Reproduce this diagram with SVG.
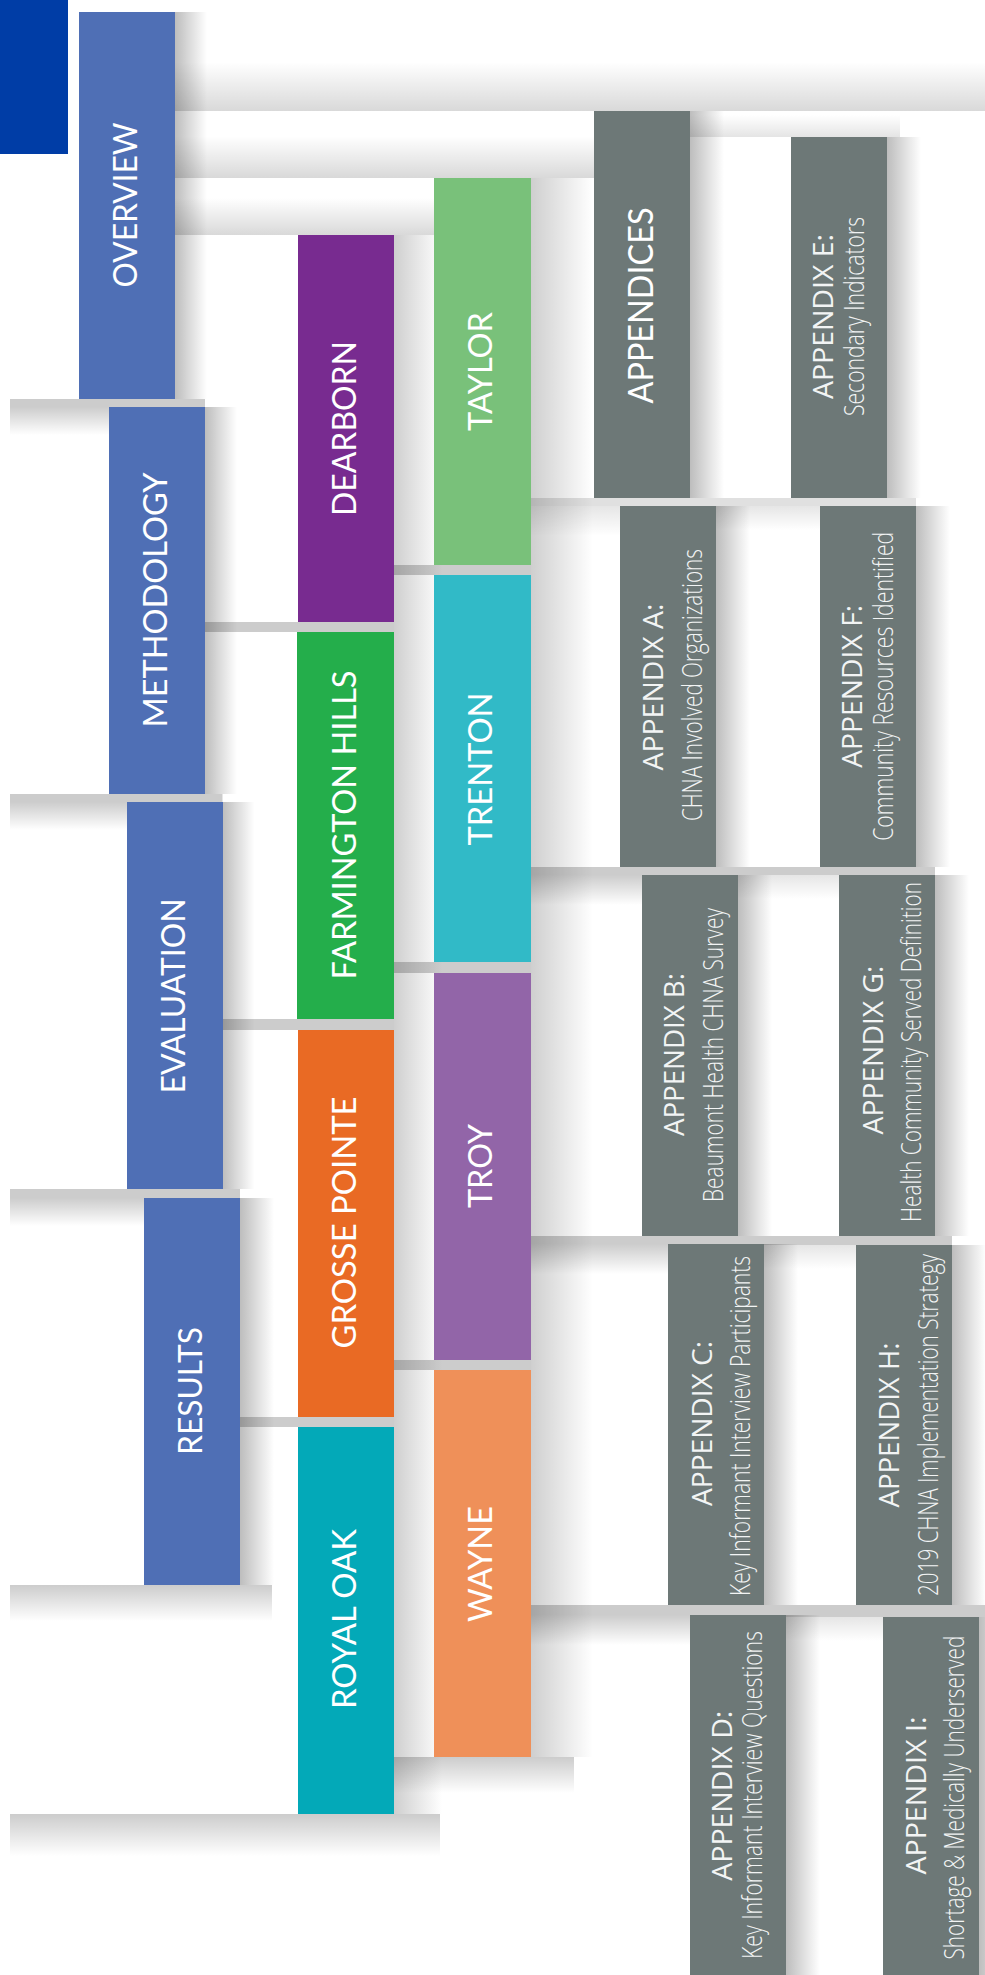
<svg xmlns="http://www.w3.org/2000/svg" width="985" height="1975" viewBox="0 0 985 1975">
<style>
.lbl{font-family:Lato,"Liberation Sans",sans-serif;font-size:32px;fill:#ffffff}
.big{font-size:34px}
.a1{font-family:"Open Sans","Liberation Sans",sans-serif;font-size:27px;fill:#f2f4f4}
.a2{font-family:"Open Sans","Liberation Sans",sans-serif;font-size:28px;font-weight:300;fill:#f2f4f4}
.strip{fill:#000;fill-opacity:0.2}
.stripL{fill:#000;fill-opacity:0.12}
.c1{fill:#4f6fb5}
.gr{fill:#6d7877}
</style>
<defs>
<linearGradient id="gR" x1="0" y1="0" x2="1" y2="0">
<stop offset="0" stop-color="#000" stop-opacity="0.26"/>
<stop offset="1" stop-color="#000" stop-opacity="0"/>
</linearGradient>
<linearGradient id="gR2" x1="0" y1="0" x2="1" y2="0">
<stop offset="0" stop-color="#000" stop-opacity="0.19"/>
<stop offset="1" stop-color="#000" stop-opacity="0"/>
</linearGradient>
<linearGradient id="gDown" x1="0" y1="0" x2="0" y2="1">
<stop offset="0" stop-color="#000" stop-opacity="0.2"/>
<stop offset="1" stop-color="#000" stop-opacity="0"/>
</linearGradient>
<linearGradient id="gDownL" x1="0" y1="0" x2="0" y2="1">
<stop offset="0" stop-color="#000" stop-opacity="0.1"/>
<stop offset="1" stop-color="#000" stop-opacity="0"/>
</linearGradient>
<linearGradient id="gUp" x1="0" y1="0" x2="0" y2="1">
<stop offset="0" stop-color="#000" stop-opacity="0"/>
<stop offset="1" stop-color="#000" stop-opacity="0.15"/>
</linearGradient>
</defs>
<rect width="985" height="1975" fill="#ffffff"/>

<g id="sheet-shading">
<rect x="175" y="62" width="810" height="49" fill="url(#gUp)"/>
<rect x="175" y="136" width="419" height="42" fill="url(#gUp)"/>
<rect x="175" y="198" width="259" height="37" fill="url(#gUp)"/>
<rect x="690" y="115" width="210" height="22" fill="url(#gUp)" opacity="0.7"/>
<rect x="175" y="12" width="32" height="387" fill="url(#gR)"/>
<rect x="205" y="407" width="32" height="387" fill="url(#gR)"/>
<rect x="222.5" y="802" width="32" height="387" fill="url(#gR)"/>
<rect x="240" y="1198" width="34" height="387" fill="url(#gR)"/>
<rect x="394" y="235" width="48" height="1579" fill="url(#gR2)"/>
<rect x="531" y="178" width="62" height="1579" fill="url(#gR2)"/>
<rect x="690" y="111" width="34" height="387" fill="url(#gR)"/>
<rect x="716" y="506" width="34" height="361" fill="url(#gR)"/>
<rect x="738" y="875" width="34" height="361" fill="url(#gR)"/>
<rect x="764" y="1244" width="34" height="361" fill="url(#gR)"/>
<rect x="786" y="1615" width="34" height="360" fill="url(#gR)"/>
<rect x="887" y="137" width="34" height="361" fill="url(#gR)"/>
<rect x="916" y="506" width="34" height="361" fill="url(#gR)"/>
<rect x="935" y="875" width="34" height="361" fill="url(#gR)"/>
<rect x="952" y="1245" width="34" height="360" fill="url(#gR)"/>
<rect x="979" y="1617" width="34" height="358" fill="url(#gR)"/>
<rect class="strip" x="10" y="399" width="195" height="8"/>
<rect x="10" y="407" width="99" height="28" fill="url(#gDown)"/>
<rect class="strip" x="10" y="794" width="212.5" height="8"/>
<rect x="10" y="802" width="117" height="28" fill="url(#gDown)"/>
<rect class="strip" x="10" y="1189" width="230" height="9"/>
<rect x="10" y="1198" width="134" height="28" fill="url(#gDown)"/>
<rect x="10" y="1585" width="262" height="36" fill="url(#gDown)"/>
<rect class="strip" x="205" y="622" width="189" height="10"/>
<rect class="strip" x="222.5" y="1019" width="171.5" height="11"/>
<rect class="strip" x="240" y="1417" width="154" height="10"/>
<rect x="10" y="1814" width="430" height="42" fill="url(#gDown)"/>
<rect class="strip" x="394" y="565" width="137" height="10"/>
<rect class="strip" x="394" y="962" width="137" height="11"/>
<rect class="strip" x="394" y="1360" width="137" height="10"/>
<rect x="394" y="1757" width="180" height="36" fill="url(#gDown)"/>
<rect class="stripL" x="531" y="498" width="185" height="8"/>
<rect x="531" y="506" width="89" height="30" fill="url(#gDownL)"/>
<rect class="strip" x="531" y="867" width="207" height="8"/>
<rect x="531" y="875" width="111" height="30" fill="url(#gDown)"/>
<rect class="strip" x="531" y="1236" width="233" height="8"/>
<rect x="531" y="1244" width="137" height="30" fill="url(#gDown)"/>
<rect class="strip" x="531" y="1605" width="255" height="10"/>
<rect x="531" y="1615" width="159" height="30" fill="url(#gDown)"/>
<rect class="stripL" x="716" y="498" width="200" height="8"/>
<rect x="716" y="506" width="104" height="24" fill="url(#gDownL)"/>
<rect class="strip" x="738" y="867" width="197" height="8"/>
<rect x="738" y="875" width="101" height="24" fill="url(#gDownL)"/>
<rect class="strip" x="764" y="1236" width="188" height="9"/>
<rect x="764" y="1245" width="92" height="24" fill="url(#gDownL)"/>
<rect class="strip" x="786" y="1605" width="199" height="12"/>
<rect x="786" y="1617" width="97" height="24" fill="url(#gDownL)"/>
</g>

<g id="corner-block"><rect x="0" y="0" width="68" height="154" fill="#003da6"/></g>

<g id="overview"><rect class="c1" x="79" y="12" width="96" height="387"/>
<text class="lbl" transform="translate(137,205) rotate(-90)" text-anchor="middle" textLength="165" lengthAdjust="spacingAndGlyphs">OVERVIEW</text></g>
<g id="methodology"><rect class="c1" x="109" y="407" width="96" height="387"/>
<text class="lbl" transform="translate(167,600) rotate(-90)" text-anchor="middle" textLength="255" lengthAdjust="spacingAndGlyphs">METHODOLOGY</text></g>
<g id="evaluation"><rect class="c1" x="127" y="802" width="96" height="387"/>
<text class="lbl" transform="translate(185,996) rotate(-90)" text-anchor="middle" textLength="195" lengthAdjust="spacingAndGlyphs">EVALUATION</text></g>
<g id="results"><rect class="c1" x="144" y="1198" width="96" height="387"/>
<text class="lbl" transform="translate(202,1391) rotate(-90)" text-anchor="middle" textLength="128" lengthAdjust="spacingAndGlyphs">RESULTS</text></g>

<g id="dearborn"><rect x="298" y="235" width="96" height="387" fill="#782b90"/>
<text class="lbl" transform="translate(356,428.5) rotate(-90)" text-anchor="middle" textLength="175" lengthAdjust="spacingAndGlyphs">DEARBORN</text></g>
<g id="farmington-hills"><rect x="297" y="632" width="97" height="387" fill="#24ae4b"/>
<text class="lbl" transform="translate(356,825) rotate(-90)" text-anchor="middle" textLength="309" lengthAdjust="spacingAndGlyphs">FARMINGTON HILLS</text></g>
<g id="grosse-pointe"><rect x="298" y="1030" width="96" height="387" fill="#e96a24"/>
<text class="lbl" transform="translate(356,1222.5) rotate(-90)" text-anchor="middle" textLength="252" lengthAdjust="spacingAndGlyphs">GROSSE POINTE</text></g>
<g id="royal-oak"><rect x="298" y="1427" width="96" height="387" fill="#03a9b8"/>
<text class="lbl" transform="translate(356,1619) rotate(-90)" text-anchor="middle" textLength="180" lengthAdjust="spacingAndGlyphs">ROYAL OAK</text></g>

<g id="taylor"><rect x="434" y="178" width="97" height="387" fill="#79c17a"/>
<text class="lbl" transform="translate(492,371.5) rotate(-90)" text-anchor="middle" textLength="119" lengthAdjust="spacingAndGlyphs">TAYLOR</text></g>
<g id="trenton"><rect x="434" y="575" width="97" height="387" fill="#31bac7"/>
<text class="lbl" transform="translate(492,769) rotate(-90)" text-anchor="middle" textLength="153" lengthAdjust="spacingAndGlyphs">TRENTON</text></g>
<g id="troy"><rect x="434" y="973" width="97" height="387" fill="#9265a8"/>
<text class="lbl" transform="translate(492,1166) rotate(-90)" text-anchor="middle" textLength="84" lengthAdjust="spacingAndGlyphs">TROY</text></g>
<g id="wayne"><rect x="434" y="1370" width="97" height="387" fill="#ef9059"/>
<text class="lbl" transform="translate(492,1564) rotate(-90)" text-anchor="middle" textLength="116" lengthAdjust="spacingAndGlyphs">WAYNE</text></g>

<g id="appendices"><rect class="gr" x="594" y="111" width="96" height="387"/>
<text class="lbl big" transform="translate(652.5,305.5) rotate(-90)" text-anchor="middle" textLength="196" lengthAdjust="spacingAndGlyphs">APPENDICES</text></g>

<g id="appendix-a"><rect class="gr" x="620" y="506" width="96" height="361"/>
<text class="a1" transform="translate(663.3,687) rotate(-90)" text-anchor="middle" textLength="167" lengthAdjust="spacingAndGlyphs">APPENDIX A:</text>
<text class="a2" transform="translate(701.7,685) rotate(-90)" text-anchor="middle" textLength="272" lengthAdjust="spacingAndGlyphs">CHNA Involved Organizations</text></g>
<g id="appendix-b"><rect class="gr" x="642" y="875" width="96" height="361"/>
<text class="a1" transform="translate(684.3,1054.5) rotate(-90)" text-anchor="middle" textLength="163" lengthAdjust="spacingAndGlyphs">APPENDIX B:</text>
<text class="a2" transform="translate(722.7,1055) rotate(-90)" text-anchor="middle" textLength="294" lengthAdjust="spacingAndGlyphs">Beaumont Health CHNA Survey</text></g>
<g id="appendix-c"><rect class="gr" x="668" y="1244" width="96" height="361"/>
<text class="a1" transform="translate(711.7,1423.4) rotate(-90)" text-anchor="middle" textLength="165" lengthAdjust="spacingAndGlyphs">APPENDIX C:</text>
<text class="a2" transform="translate(750,1426) rotate(-90)" text-anchor="middle" textLength="340" lengthAdjust="spacingAndGlyphs">Key Informant Interview Participants</text></g>
<g id="appendix-d"><rect class="gr" x="690" y="1615" width="96" height="360"/>
<text class="a1" transform="translate(732.3,1795.7) rotate(-90)" text-anchor="middle" textLength="170" lengthAdjust="spacingAndGlyphs">APPENDIX D:</text>
<text class="a2" transform="translate(762,1795) rotate(-90)" text-anchor="middle" textLength="328" lengthAdjust="spacingAndGlyphs">Key Informant Interview Questions</text></g>

<g id="appendix-e"><rect class="gr" x="791" y="137" width="96" height="361"/>
<text class="a1" transform="translate(833.3,316.5) rotate(-90)" text-anchor="middle" textLength="165" lengthAdjust="spacingAndGlyphs">APPENDIX E:</text>
<text class="a2" transform="translate(864,316.5) rotate(-90)" text-anchor="middle" textLength="199" lengthAdjust="spacingAndGlyphs">Secondary Indicators</text></g>
<g id="appendix-f"><rect class="gr" x="820" y="506" width="96" height="361"/>
<text class="a1" transform="translate(861.7,686.3) rotate(-90)" text-anchor="middle" textLength="163" lengthAdjust="spacingAndGlyphs">APPENDIX F:</text>
<text class="a2" transform="translate(893.3,686.3) rotate(-90)" text-anchor="middle" textLength="309" lengthAdjust="spacingAndGlyphs">Community Resources Identified</text></g>
<g id="appendix-g"><rect class="gr" x="839" y="875" width="96" height="361"/>
<text class="a1" transform="translate(883.3,1050) rotate(-90)" text-anchor="middle" textLength="169" lengthAdjust="spacingAndGlyphs">APPENDIX G:</text>
<text class="a2" transform="translate(920.7,1052) rotate(-90)" text-anchor="middle" textLength="340" lengthAdjust="spacingAndGlyphs">Health Community Served Definition</text></g>
<g id="appendix-h"><rect class="gr" x="856" y="1245" width="96" height="360"/>
<text class="a1" transform="translate(899.3,1425) rotate(-90)" text-anchor="middle" textLength="165" lengthAdjust="spacingAndGlyphs">APPENDIX H:</text>
<text class="a2" transform="translate(937.7,1425) rotate(-90)" text-anchor="middle" textLength="342" lengthAdjust="spacingAndGlyphs">2019 CHNA Implementation Strategy</text></g>
<g id="appendix-i"><rect class="gr" x="883" y="1617" width="96" height="358"/>
<text class="a1" transform="translate(926,1795.6) rotate(-90)" text-anchor="middle" textLength="158" lengthAdjust="spacingAndGlyphs">APPENDIX I:</text>
<text class="a2" transform="translate(964,1797.6) rotate(-90)" text-anchor="middle" textLength="324" lengthAdjust="spacingAndGlyphs">Shortage &amp; Medically Underserved</text></g>
</svg>
